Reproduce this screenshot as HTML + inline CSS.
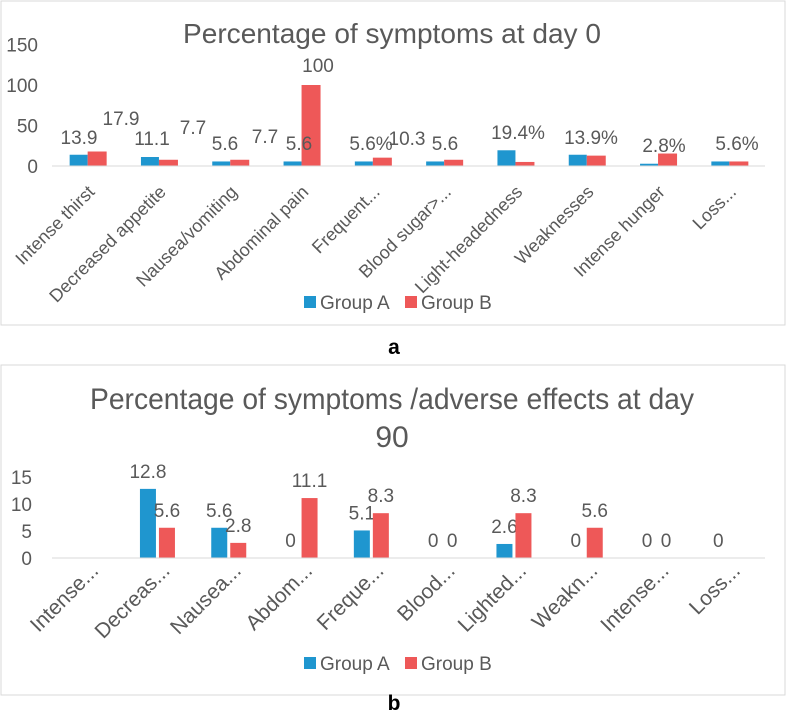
<!DOCTYPE html>
<html><head><meta charset="utf-8">
<style>
body{margin:0;background:#fff;width:787px;height:727px;overflow:hidden}
svg{display:block;font-family:"Liberation Sans",sans-serif}
text{fill:#595959}
</style></head>
<body>
<svg id="svg" width="787" height="727">
<rect x="1" y="1" width="784" height="324" fill="#fff" stroke="#d9d9d9"/>
<rect x="1" y="365" width="784" height="330" fill="#fff" stroke="#d9d9d9"/>
<text x="392" y="43" text-anchor="middle" font-size="28" textLength="418" lengthAdjust="spacingAndGlyphs">Percentage of symptoms  at day 0</text>
<text x="392" y="409" text-anchor="middle" font-size="30" textLength="604" lengthAdjust="spacingAndGlyphs">Percentage of symptoms  /adverse effects at day</text>
<text x="392" y="447" text-anchor="middle" font-size="30">90</text>
<text x="394" y="354" text-anchor="middle" font-size="21" font-weight="bold" style="fill:#000">a</text>
<text x="394" y="710" text-anchor="middle" font-size="21" font-weight="bold" style="fill:#000">b</text>
<g id="ca"></g><g id="cb"></g>
</svg>
<script>
const catsA=["Intense thirst","Decreased appetite","Nausea/vomiting","Abdominal pain","Frequent...","Blood sugar>...","Light-headedness","Weaknesses","Intense hunger","Loss..."];
const aGroupA=[13.9,11.1,5.6,5.6,5.6,5.6,19.4,13.9,2.8,5.6];
const aGroupB=[17.9,7.7,7.7,100,10.3,7.7,5.0,12.8,15.4,5.6];
const aTicks=[0,50,100,150];
const aLabels=["13.9","17.9","11.1","7.7","5.6","7.7","5.6","100","5.6%","10.3","5.6","19.4%","13.9%","2.8%","5.6%"];
const aLabelPos=[[79,137],[121,118],[152,138],[193,127],[225,143],[265,136],[299,143],[318,65],[371,143],[407,138],[445,143],[518,132],[591,137],[664,145],[737,143]];
const catsB=["Intense...","Decreas...","Nausea...","Abdom...","Freque...","Blood...","Lighted...","Weakn...","Intense...","Loss..."];
const bGroupA=[null,12.8,5.6,0,5.1,0,2.6,0,0,0];
const bGroupB=[null,5.6,2.8,11.1,8.3,0,8.3,5.6,0,null];
const bTicks=[0,5,10,15];
const BLUE="#1f96cf",RED="#ee5858";
const NS="http://www.w3.org/2000/svg";
function mk(p,t,a,txt){const e=document.createElementNS(NS,t);for(const k in a)e.setAttribute(k,a[k]);if(txt!=null)e.textContent=txt;p.appendChild(e);return e;}
const x0=52,x1=765;
function cx(i,n){return x0+(x1-x0)/n*(i+0.5);}

(function(){
const g=document.getElementById('ca');
const base=166,pxPer=81/100;
const y=v=>base-v*pxPer;
aTicks.forEach(t=>{const e=mk(g,'text',{x:38,y:y(t)+7,'text-anchor':'end','font-size':19},t);

});
catsA.forEach((c,i)=>{const m=cx(i,catsA.length);
const ba=mk(g,'rect',{x:m-18,y:y(aGroupA[i]),width:18,height:aGroupA[i]*pxPer,fill:BLUE});


const bb=mk(g,'rect',{x:m,y:y(aGroupB[i]),width:19,height:aGroupB[i]*pxPer,fill:RED});


const t=mk(g,'text',{x:0,y:0,'text-anchor':'end','font-size':18,transform:`translate(${m+8},${base+27}) rotate(-45)`},c);

});
const ax=mk(g,'line',{x1:x0,x2:x1,y1:base,y2:base,stroke:'#d9d9d9'});


aLabels.forEach((l,i)=>{const e=mk(g,'text',{x:aLabelPos[i][0],y:aLabelPos[i][1]+7,'text-anchor':'middle','font-size':19},l);

});
legend(g,302);
})();

(function(){
const g=document.getElementById('cb');
const base=558,pxPer=81/15;
const y=v=>base-v*pxPer;
bTicks.forEach(t=>{const e=mk(g,'text',{x:32,y:y(t)+7,'text-anchor':'end','font-size':19},t);

});
catsB.forEach((c,i)=>{const m=cx(i,catsB.length);
[[bGroupA[i],m-19,BLUE,'bar-b-groupA'],[bGroupB[i],m,RED,'bar-b-groupB']].forEach(([v,bx,col,nm])=>{
if(v==null)return;
const r=mk(g,'rect',{x:bx,y:y(v),width:16,height:v*pxPer,fill:col});


const l=mk(g,'text',{x:bx+8,y:y(v)-11,'text-anchor':'middle','font-size':19},String(v));

});
const t=mk(g,'text',{x:0,y:0,'text-anchor':'end','font-size':21,transform:`translate(${m+12},${base+14}) rotate(-45)`},c);

});
const ax=mk(g,'line',{x1:x0,x2:x1,y1:base,y2:base,stroke:'#d9d9d9'});


legend(g,663);
})();

function legend(g,yc){
const s1=mk(g,'rect',{x:304,y:yc-6,width:12,height:12,fill:BLUE});


const t1=mk(g,'text',{x:320,y:yc+7,'font-size':19},'Group A');


const s2=mk(g,'rect',{x:405,y:yc-6,width:12,height:12,fill:RED});


const t2=mk(g,'text',{x:421,y:yc+7,'font-size':19},'Group B');


}
</script>
</body></html>
